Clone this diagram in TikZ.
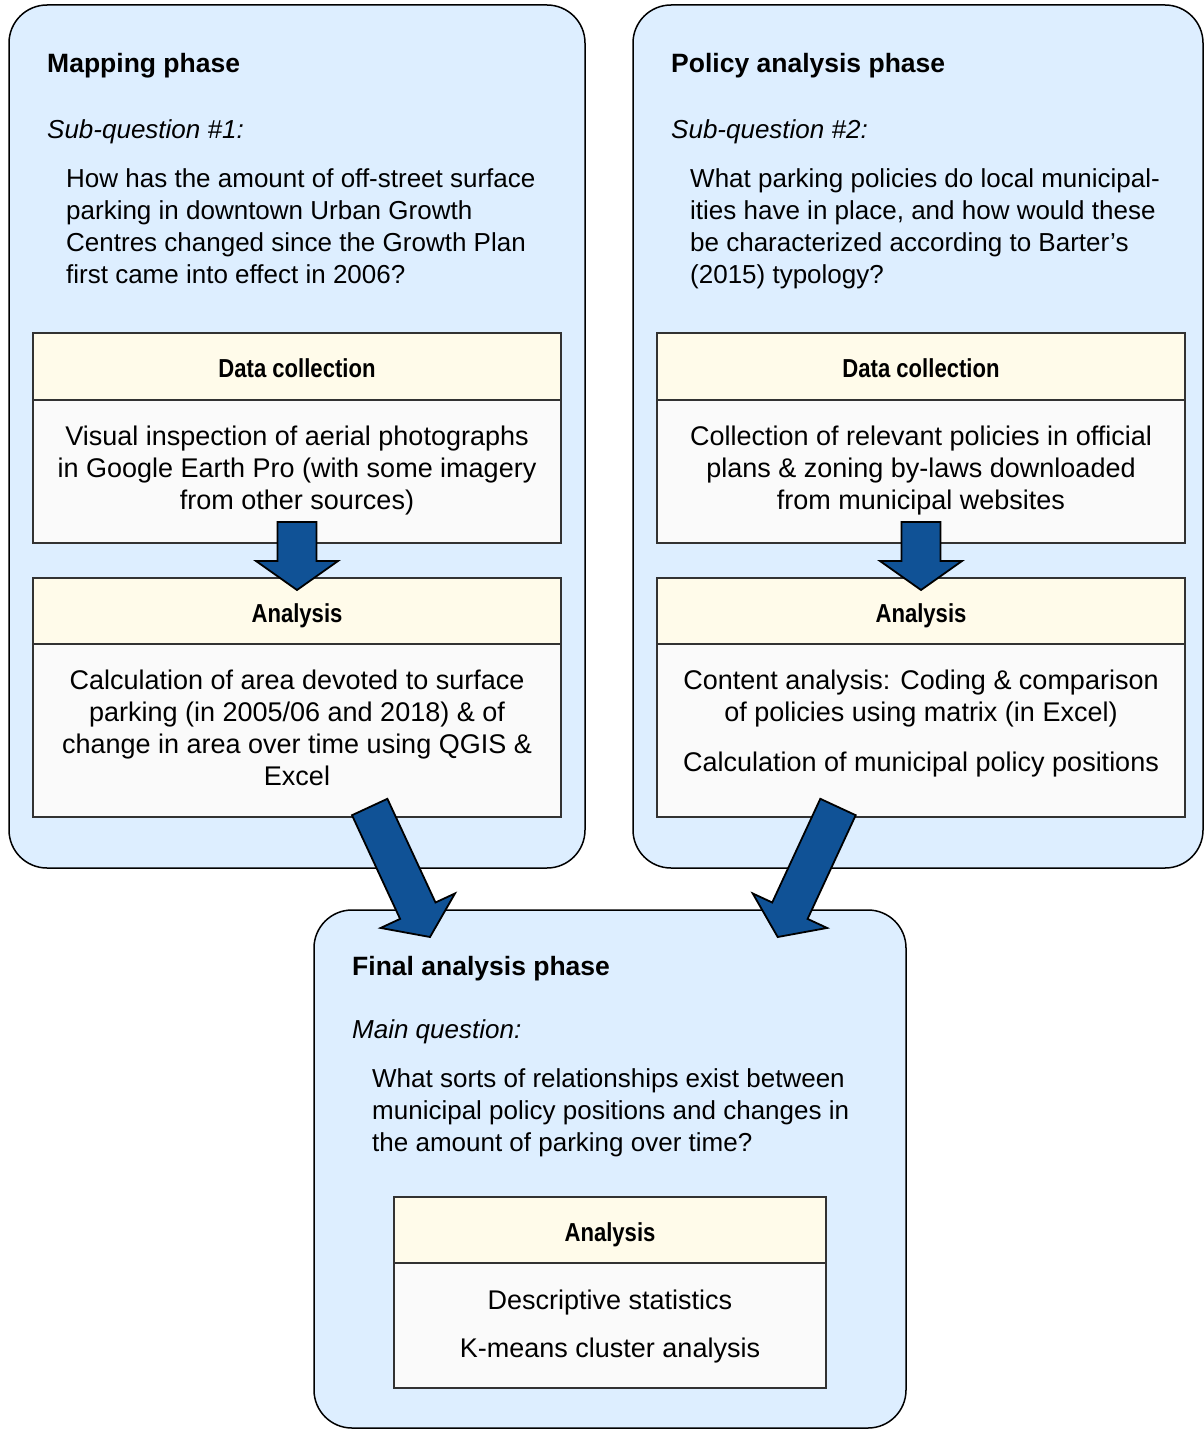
\documentclass[tikz,border=0pt]{standalone}
\usepackage{fontspec}
\setmainfont{Liberation Sans}
\newfontfamily\condfont[FakeStretch=0.85]{Liberation Sans}
\usetikzlibrary{calc}
\definecolor{phasefill}{RGB}{221,238,255}
\definecolor{headfill}{RGB}{255,251,234}
\definecolor{bodyfill}{RGB}{250,250,250}
\definecolor{arrowfill}{RGB}{16,82,150}
\definecolor{innerline}{RGB}{50,50,50}
\tikzset{
  phase/.style={draw=black, line width=1.5pt, fill=phasefill, rounded corners=38pt, inner sep=0pt},
  headbox/.style={draw=innerline, line width=1.2pt, fill=headfill, inner sep=0pt, minimum height=67pt},
  bodybox/.style={draw=innerline, line width=1.2pt, fill=bodyfill, inner sep=0pt},
  bigarrow/.style={draw=black, line width=1.8pt, fill=arrowfill, line join=miter},
  txt/.style={inner sep=0pt, font=\fontsize{26}{32}\selectfont},
  boxtxt/.style={inner sep=0pt, font=\fontsize{27}{32}\selectfont},
  ttl/.style={inner sep=0pt, anchor=base west, font=\fontsize{26.5}{32}\selectfont\bfseries},
  sub/.style={inner sep=0pt, anchor=base west, font=\fontsize{26}{32}\selectfont\itshape},
  hdr/.style={inner sep=0pt, anchor=base, font=\fontsize{26}{32}\selectfont\condfont\bfseries},
}
\newcommand\blockarrow[2]{%
  \coordinate (ba-h) at ($(#2)!29pt!(#1)$);
  \filldraw[bigarrow] ($(#1)!19.5pt!90:(#2)$) -- ($(ba-h)!19.5pt!90:(#2)$) -- ($(ba-h)!41pt!90:(#2)$) -- (#2) -- ($(ba-h)!41pt!-90:(#2)$) -- ($(ba-h)!19.5pt!-90:(#2)$) -- ($(#1)!19.5pt!-90:(#2)$) -- cycle;
}
\begin{document}
\begin{tikzpicture}[x=1pt,y=-1pt]
\useasboundingbox (0,0) rectangle (1204,1429);
% phase boxes
\node[phase, minimum width=576pt, minimum height=863pt] (map) at (297,436.5) {};
\node[phase, minimum width=570pt, minimum height=863pt] (pol) at (918,436.5) {};
\node[phase, minimum width=592pt, minimum height=518pt] (fin) at (610,1169) {};

% ---- Mapping phase (multi-line nodes are placed at the baseline of their last line)
\node[ttl] (mapt) at (47,72) {Mapping phase};
\node[sub] (maps) at (47,138) {Sub-question \#1:};
\node[txt, anchor=base west, align=left] (mapq) at (66,283) {How has the amount of off-street surface\\parking in downtown Urban Growth\\Centres changed since the Growth Plan\\first came into effect in 2006?};
\node[headbox, minimum width=528pt] (mapdch) at (297,366.5) {};
\node[hdr] at (297,377) {Data collection};
\node[bodybox, minimum width=528pt, minimum height=143pt] (mapdcb) at (297,471.5) {};
\node[boxtxt, anchor=base, align=center] (mapdct) at (297,509) {Visual inspection of aerial photographs\\in Google Earth Pro (with some imagery\\from other sources)};
\node[headbox, minimum width=528pt, minimum height=66pt] (mapanh) at (297,611) {};
\node[hdr] at (297,622) {Analysis};
\node[bodybox, minimum width=528pt, minimum height=173pt] (mapanb) at (297,730.5) {};
\node[boxtxt, anchor=base, align=center] (mapant) at (297,785) {Calculation of area devoted to surface\\parking (in 2005/06 and 2018) \& of\\change in area over time using QGIS \&\\Excel};

% ---- Policy analysis phase
\node[ttl] (polt) at (671,72) {Policy analysis phase};
\node[sub] (pols) at (671,138) {Sub-question \#2:};
\node[txt, anchor=base west, align=left] (polq) at (690,283) {What parking policies do local municipal-\\ities have in place, and how would these\\be characterized according to Barter’s\\(2015) typology?};
\node[headbox, minimum width=528pt] (poldch) at (921,366.5) {};
\node[hdr] at (921,377) {Data collection};
\node[bodybox, minimum width=528pt, minimum height=143pt] (poldcb) at (921,471.5) {};
\node[boxtxt, anchor=base, align=center] (poldct) at (921,509) {Collection of relevant policies in official\\plans \& zoning by-laws downloaded\\from municipal websites};
\node[headbox, minimum width=528pt, minimum height=66pt] (polanh) at (921,611) {};
\node[hdr] at (921,622) {Analysis};
\node[bodybox, minimum width=528pt, minimum height=173pt] (polanb) at (921,730.5) {};
\node[boxtxt, anchor=base, align=center] (polant) at (921,721) {Content analysis: Coding \& comparison\\of policies using matrix (in Excel)};
\node[boxtxt, anchor=base] (polant2) at (921,771) {Calculation of municipal policy positions};

% ---- Final analysis phase
\node[ttl] (fint) at (352,975) {Final analysis phase};
\node[sub] (fins) at (352,1038) {Main question:};
\node[txt, anchor=base west, align=left] (finq) at (372,1151) {What sorts of relationships exist between\\municipal policy positions and changes in\\the amount of parking over time?};
\node[headbox, minimum width=432pt, minimum height=66pt] (finanh) at (610,1230) {};
\node[hdr] at (610,1241) {Analysis};
\node[bodybox, minimum width=432pt, minimum height=125pt] (finanb) at (610,1325.5) {};
\node[boxtxt, anchor=base] (fin1) at (610,1309) {Descriptive statistics};
\node[boxtxt, anchor=base] (fin2) at (610,1357) {K-means cluster analysis};

% ---- arrows
\coordinate (a1s) at (297,522);
\coordinate (a1e) at (297,590);
\coordinate (a2s) at (921,522);
\coordinate (a2e) at (921,590);
\coordinate (a3s) at (369.7,807);
\coordinate (a3e) at (430,937);
\coordinate (a4s) at (838,807);
\coordinate (a4e) at (777.7,937);
\blockarrow{a1s}{a1e}
\blockarrow{a2s}{a2e}
\blockarrow{a3s}{a3e}
\blockarrow{a4s}{a4e}
\end{tikzpicture}
\end{document}
